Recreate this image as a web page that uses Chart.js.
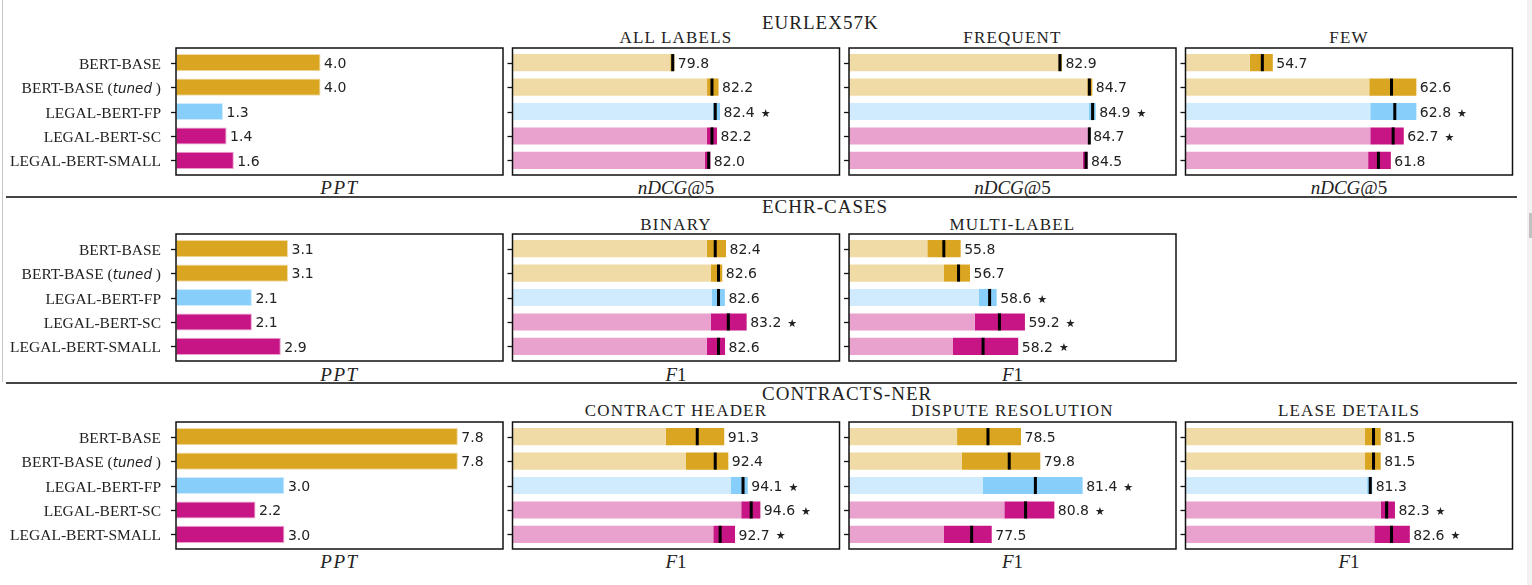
<!DOCTYPE html>
<html><head><meta charset="utf-8">
<script src="https://cdn.jsdelivr.net/npm/chart.js@4.4.1/dist/chart.umd.min.js"></script>
<style>
html,body{margin:0;padding:0;background:#fff;width:1532px;height:585px;overflow:hidden}
#wrap{position:relative;width:1532px;height:585px}
#wrap canvas{position:absolute}
#wrap svg{position:absolute;left:0;top:0}
</style></head><body><div id="wrap"></div>
<script>
// ---------------- data ----------------
const models = ['BERT-BASE', 'BERT-BASE (tuned)', 'LEGAL-BERT-FP', 'LEGAL-BERT-SC', 'LEGAL-BERT-SMALL'];
const rowTitles = ['EURLEX57K', 'ECHR-CASES', 'CONTRACTS-NER'];
const eurlexTasks = ['ALL LABELS', 'FREQUENT', 'FEW'];
const echrTasks = ['BINARY', 'MULTI-LABEL'];
const contractsTasks = ['CONTRACT HEADER', 'DISPUTE RESOLUTION', 'LEASE DETAILS'];
const rowMetrics = ['nDCG@5', 'F1', 'F1'];
const pptLabel = 'PPT';
const pptRange = [0, 9.05];

const pptEurlex = [4.0, 4.0, 1.3, 1.4, 1.6];
const pptEchr = [3.1, 3.1, 2.1, 2.1, 2.9];
const pptContracts = [7.8, 7.8, 3.0, 2.2, 3.0];

// mean score, lowest and highest run, significance star
const eurlexAllMean = [79.8, 82.2, 82.4, 82.2, 82.0];
const eurlexAllLow  = [79.65, 81.9, 82.25, 81.88, 81.77];
const eurlexAllHigh = [79.9, 82.6, 82.69, 82.51, 82.1];
const eurlexAllStar = [0, 0, 1, 0, 0];
const eurlexAllRange = [70, 90];

const eurlexFreqMean = [82.9, 84.7, 84.9, 84.7, 84.5];
const eurlexFreqLow  = [82.81, 84.57, 84.67, 84.65, 84.3];
const eurlexFreqHigh = [83.02, 84.88, 85.09, 84.72, 84.59];
const eurlexFreqStar = [0, 0, 1, 0, 0];
const eurlexFreqRange = [70, 90];

const eurlexFewMean = [54.7, 62.6, 62.8, 62.7, 61.8];
const eurlexFewLow  = [53.93, 61.24, 61.3, 61.3, 61.17];
const eurlexFewHigh = [55.34, 64.12, 64.12, 63.35, 62.56];
const eurlexFewStar = [0, 0, 1, 1, 0];
const eurlexFewRange = [50, 70];

const echrBinMean = [82.4, 82.6, 82.6, 83.2, 82.6];
const echrBinLow  = [81.88, 82.12, 82.2, 82.12, 81.88];
const echrBinHigh = [83.06, 82.83, 82.99, 84.32, 83.0];
const echrBinStar = [0, 0, 0, 1, 0];
const echrBinRange = [70, 90];

const echrMultiMean = [55.8, 56.7, 58.6, 59.2, 58.2];
const echrMultiLow  = [54.79, 55.81, 57.93, 57.69, 56.36];
const echrMultiHigh = [56.83, 57.4, 59.03, 60.76, 60.35];
const echrMultiStar = [0, 0, 1, 1, 1];
const echrMultiRange = [50, 70];

const headerMean = [91.3, 92.4, 94.1, 94.6, 92.7];
const headerLow  = [89.37, 90.61, 93.36, 93.99, 92.28];
const headerHigh = [92.95, 93.2, 94.39, 95.16, 93.61];
const headerStar = [0, 0, 1, 1, 1];
const headerRange = [80, 100];

const disputeMean = [78.5, 79.8, 81.4, 80.8, 77.5];
const disputeLow  = [76.61, 76.91, 78.18, 79.5, 75.81];
const disputeHigh = [80.52, 81.7, 84.29, 82.56, 78.73];
const disputeStar = [0, 0, 1, 1, 0];
const disputeRange = [70, 90];

const leaseMean = [81.5, 81.5, 81.3, 82.3, 82.6];
const leaseLow  = [80.98, 80.98, 81.11, 81.94, 81.55];
const leaseHigh = [81.94, 81.94, 81.42, 82.81, 83.72];
const leaseStar = [0, 0, 0, 1, 1];
const leaseRange = [70, 90];

const darkColors = ['#DAA520', '#DAA520', '#87CEFA', '#C71585', '#C71585'];
const lightColors = ['#F0DBA6', '#F0DBA6', '#CFEBFD', '#E9A1CE', '#E9A1CE'];

// ---------------- layout ----------------
const panelLefts = [176, 512.5, 849, 1185.5];
const panelW = 327;
const rowTops = [48, 234, 422];
const panelH = 127;
const wrap = document.getElementById('wrap');

const rows = [
  { title: rowTitles[0], metric: rowMetrics[0], ppt: pptEurlex, tasks: [
    { name: eurlexTasks[0], mean: eurlexAllMean, low: eurlexAllLow, high: eurlexAllHigh, star: eurlexAllStar, range: eurlexAllRange },
    { name: eurlexTasks[1], mean: eurlexFreqMean, low: eurlexFreqLow, high: eurlexFreqHigh, star: eurlexFreqStar, range: eurlexFreqRange },
    { name: eurlexTasks[2], mean: eurlexFewMean, low: eurlexFewLow, high: eurlexFewHigh, star: eurlexFewStar, range: eurlexFewRange }]},
  { title: rowTitles[1], metric: rowMetrics[1], ppt: pptEchr, tasks: [
    { name: echrTasks[0], mean: echrBinMean, low: echrBinLow, high: echrBinHigh, star: echrBinStar, range: echrBinRange },
    { name: echrTasks[1], mean: echrMultiMean, low: echrMultiLow, high: echrMultiHigh, star: echrMultiStar, range: echrMultiRange }]},
  { title: rowTitles[2], metric: rowMetrics[2], ppt: pptContracts, tasks: [
    { name: contractsTasks[0], mean: headerMean, low: headerLow, high: headerHigh, star: headerStar, range: headerRange },
    { name: contractsTasks[1], mean: disputeMean, low: disputeLow, high: disputeHigh, star: disputeStar, range: disputeRange },
    { name: contractsTasks[2], mean: leaseMean, low: leaseLow, high: leaseHigh, star: leaseStar, range: leaseRange }]}
];

// ---------------- plugin ----------------
function drawModelLabel(ctx, text, xRight, yBase) {
  const serif = '15.5px "Liberation Serif"';
  const ital = 'italic 13.5px "DejaVu Sans"';
  const m = text.match(/^(.*\()(.*)(\))$/);
  ctx.fillStyle = '#222';
  ctx.textBaseline = 'alphabetic';
  if (!m) { ctx.font = serif; ctx.textAlign = 'right'; ctx.fillText(text, xRight, yBase); return; }
  const parts = [[m[1], serif], [m[2], ital], [' ' + m[3], serif]];
  let total = 0;
  parts.forEach(p => { ctx.font = p[1]; p.push(ctx.measureText(p[0]).width); total += p[2]; });
  let x = xRight - total;
  ctx.textAlign = 'left';
  parts.forEach(p => { ctx.font = p[1]; ctx.fillText(p[0], x, yBase); x += p[2]; });
}

const panelPlugin = {
  id: 'panel',
  afterDraw(chart, args, o) {
    const { ctx, chartArea: a, scales: { x, y } } = chart;
    const meta = chart.getDatasetMeta(chart.data.datasets.length - 1);
    ctx.save();
    if (o.mean) {
      ctx.fillStyle = '#000';
      o.mean.forEach((v, i) => {
        const bar = meta.data[i];
        const px = x.getPixelForValue(v);
        ctx.fillRect(px - 1.5, bar.y - bar.height / 2, 3, bar.height);
      });
    }
    ctx.fillStyle = '#222';
    ctx.textAlign = 'left';
    ctx.textBaseline = 'alphabetic';
    o.values.forEach((v, i) => {
      const bar = meta.data[i];
      const end = o.high ? o.high[i] : v;
      const txt = v.toFixed(1);
      const tx = x.getPixelForValue(end) + 3.5;
      ctx.font = '14px "DejaVu Sans"';
      ctx.fillText(txt, tx, bar.y + 5.3);
      if (o.star && o.star[i]) {
        const w = ctx.measureText(txt).width;
        ctx.font = '11px "DejaVu Sans"';
        ctx.fillText('\u2605', tx + w + 6, bar.y + 5);
      }
    });
    ctx.strokeStyle = '#111';
    ctx.lineWidth = 1.5;
    ctx.strokeRect(a.left, a.top, a.right - a.left, a.bottom - a.top);
    ctx.lineWidth = 1.3;
    models.forEach((name, i) => {
      const py = Math.round(y.getPixelForValue(i)) + 0.5;
      ctx.beginPath(); ctx.moveTo(a.left - 5, py); ctx.lineTo(a.left, py); ctx.stroke();
      if (o.showLabels) drawModelLabel(ctx, name, a.left - 15, py + 5.5);
    });
    ctx.restore();
  }
};

function yScale() {
  return { type: 'linear', min: -0.6, max: 4.6, reverse: true, offset: false, display: false,
    afterBuildTicks: s => { s.ticks = models.map((_, i) => ({ value: i })); } };
}

function makeChart(left, top, showLabels, datasets, range, pluginOpts) {
  const padT = 4, padB = 4, padR = 4;
  const cLeft = showLabels ? 0 : Math.floor(left) - 8;
  const padL = left - cLeft;
  const c = document.createElement('canvas');
  c.width = Math.ceil(padL + panelW + padR);
  c.height = panelH + padT + padB;
  c.style.left = cLeft + 'px';
  c.style.top = (top - padT) + 'px';
  wrap.appendChild(c);
  pluginOpts.showLabels = showLabels;
  new Chart(c, {
    type: 'bar',
    data: { datasets },
    options: {
      indexAxis: 'y', responsive: false, animation: false, events: [],
      layout: { padding: { left: padL, right: c.width - padL - panelW, top: padT, bottom: padB } },
      plugins: { legend: { display: false }, tooltip: { enabled: false }, panel: pluginOpts },
      scales: { x: { type: 'linear', min: range[0], max: range[1], display: false }, y: yScale() }
    },
    plugins: [panelPlugin]
  });
}

const barCommon = { grouped: false, barPercentage: 0.7, categoryPercentage: 1 };

rows.forEach((row, r) => {
  const top = rowTops[r];
  makeChart(panelLefts[0], top, true, [
    Object.assign({ data: row.ppt.map((v, i) => ({ x: [pptRange[0], v], y: i })),
      backgroundColor: darkColors, borderColor: lightColors, borderWidth: 1, borderSkipped: false }, barCommon)
  ], pptRange, { values: row.ppt });
  row.tasks.forEach((t, k) => {
    makeChart(panelLefts[k + 1], top, false, [
      Object.assign({ data: t.low.map((lo, i) => ({ x: [t.range[0], lo], y: i })), backgroundColor: lightColors }, barCommon),
      Object.assign({ data: t.low.map((lo, i) => ({ x: [lo, t.high[i]], y: i })), backgroundColor: darkColors }, barCommon)
    ], t.range, { values: t.mean, high: t.high, star: t.star, mean: t.mean });
  });
});

// ---------------- text & decorations (SVG) ----------------
const NS = 'http://www.w3.org/2000/svg';
const svg = document.createElementNS(NS, 'svg');
svg.setAttribute('width', 1532); svg.setAttribute('height', 585);
wrap.insertBefore(svg, wrap.firstChild);
function el(tag, attrs, txt) {
  const e = document.createElementNS(NS, tag);
  for (const k in attrs) e.setAttribute(k, attrs[k]);
  if (txt !== undefined) e.textContent = txt;
  svg.appendChild(e); return e;
}
el('rect', { x: 1527, y: 0, width: 5, height: 585, fill: '#f1f1f1' });
el('rect', { x: 1529, y: 213, width: 3, height: 25, fill: '#c1c1c1' });
el('rect', { x: 2, y: 0, width: 1, height: 382, fill: '#c8c8c8' });
[197, 383].forEach(yy => el('rect', { x: 6, y: yy - 1, width: 1511, height: 2, fill: '#444' }));

const titleBase = [29.3, 213.3, 400];
const subBase = [42.7, 230, 416];
const metricBase = [194, 381, 568];
function metricText(label, cx, yb) {
  const t = el('text', { x: cx, y: yb, 'text-anchor': 'middle', 'font-family': 'Liberation Serif', 'font-size': 19, fill: '#222',
    'letter-spacing': label === pptLabel ? 1.5 : 0 });
  const m = label.match(/^([A-Za-z]+)(.*)$/);
  const a = document.createElementNS(NS, 'tspan'); a.setAttribute('font-style', 'italic'); a.textContent = m[1]; t.appendChild(a);
  if (m[2]) { const b = document.createElementNS(NS, 'tspan'); b.textContent = m[2]; t.appendChild(b); }
}
rows.forEach((row, r) => {
  el('text', { x: 762, y: titleBase[r], 'font-family': 'Liberation Serif', 'font-size': 19, 'letter-spacing': 1, fill: '#222' }, row.title);
  metricText(pptLabel, panelLefts[0] + panelW / 2, metricBase[r]);
  row.tasks.forEach((t, k) => {
    const cx = panelLefts[k + 1] + panelW / 2;
    el('text', { x: cx, y: subBase[r], 'text-anchor': 'middle', 'font-family': 'Liberation Serif', 'font-size': 17, 'letter-spacing': 1.2, fill: '#222' }, t.name);
    metricText(row.metric, cx, metricBase[r]);
  });
});
</script></body></html>
